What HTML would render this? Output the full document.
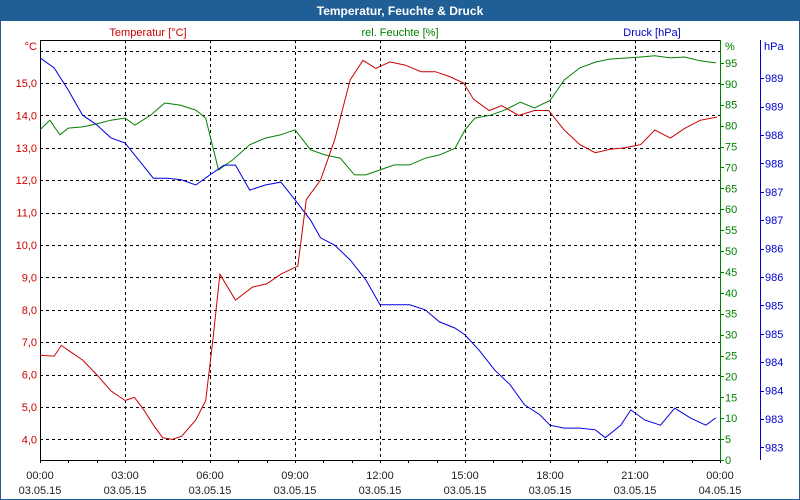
<!DOCTYPE html>
<html><head><meta charset="utf-8"><style>
html,body{margin:0;padding:0;background:#fff}
#wrap{position:relative;width:800px;height:500px;overflow:hidden}
text{font-family:"Liberation Sans",sans-serif;font-size:11px}
</style></head><body>
<div id="wrap">
<svg id="chart" width="800" height="500" xmlns="http://www.w3.org/2000/svg">
<rect x="0.5" y="0.5" width="799" height="499" fill="#fff" stroke="#1f5f96"/>
<rect x="0" y="0" width="800" height="21" fill="#1f5f96"/>
<text x="400" y="15" text-anchor="middle" fill="#fff" font-weight="bold" style="font-size:12px">Temperatur, Feuchte &amp; Druck</text>
<text x="148" y="36" text-anchor="middle" fill="#cc0000">Temperatur [°C]</text>
<text x="400" y="36" text-anchor="middle" fill="#008000">rel. Feuchte [%]</text>
<text x="652" y="36" text-anchor="middle" fill="#0000cc">Druck [hPa]</text>
<text x="37" y="50" text-anchor="end" fill="#cc0000">°C</text>
<text x="725" y="50" fill="#008000">%</text>
<text x="764" y="50" fill="#0000cc">hPa</text>
<g id="grid"></g><g id="axes"></g><g id="series"></g>
</svg>
</div>
<script>
const tempHours=[0,0.5,0.75,1,1.5,2,2.5,3,3.33,3.67,4,4.33,4.67,5,5.5,5.85,6.1,6.35,6.9,7.5,8,8.5,9.1,9.4,9.9,10.4,10.95,11.4,11.85,12.35,12.9,13.45,13.95,14.45,14.95,15.3,15.85,16.3,16.9,17.45,17.95,18.5,19.05,19.6,20.1,20.65,21.2,21.7,22.25,22.75,23.3,23.9];
const tempValues=[6.6,6.57,6.9,6.75,6.45,6.0,5.5,5.2,5.3,4.9,4.45,4.05,4.0,4.1,4.6,5.2,7.05,9.1,8.3,8.7,8.8,9.1,9.35,11.4,12.0,13.25,15.1,15.7,15.45,15.65,15.55,15.35,15.35,15.2,15.0,14.5,14.15,14.3,14.0,14.15,14.15,13.55,13.1,12.85,12.95,13.0,13.1,13.55,13.3,13.6,13.85,13.95];
const humHours=[0,0.35,0.7,1,1.5,2,2.5,3,3.35,3.9,4.4,4.95,5.5,5.85,6.3,6.8,7.4,7.95,8.5,9.0,9.55,10.05,10.6,11.1,11.5,12.0,12.5,13.05,13.6,14.1,14.65,15.0,15.35,15.9,16.4,16.95,17.45,18.0,18.5,19.05,19.6,20.1,21.2,21.7,22.25,22.75,23.3,23.85];
const humValues=[79,81.3,77.8,79.4,79.7,80.4,81.3,81.8,80.1,82.5,85.4,84.9,83.7,81.8,69.4,71.8,75.4,77,77.8,79,74.2,73,72.2,68.2,68.2,69.4,70.6,70.6,72.2,73,74.6,79,81.8,82.5,83.7,85.6,84.2,86,90.9,93.8,95.2,95.9,96.4,96.7,96.2,96.4,95.5,95];
const presHours=[0,0.5,1,1.5,2,2.5,3,3.55,4,4.5,5,5.5,6,6.5,6.9,7.4,7.95,8.5,9.0,9.55,9.9,10.4,10.95,11.5,12.0,12.5,13.05,13.6,14.1,14.65,15.0,15.5,16.05,16.6,17.1,17.65,18.0,18.5,19.05,19.6,19.95,20.5,20.85,21.35,21.9,22.4,22.95,23.5,23.85];
const presValues=[989.36,989.18,988.79,988.35,988.18,987.95,987.86,987.52,987.24,987.24,987.21,987.12,987.30,987.47,987.47,987.03,987.12,987.17,986.86,986.5,986.19,986.06,985.8,985.45,985.01,985.01,985.01,984.92,984.71,984.6,984.48,984.21,983.86,983.6,983.25,983.07,982.89,982.84,982.84,982.81,982.67,982.89,983.16,982.98,982.89,983.19,983.02,982.89,983.02];
const timeLabels=["00:00","03:00","06:00","09:00","12:00","15:00","18:00","21:00","00:00"];
const dateLabels=["03.05.15","03.05.15","03.05.15","03.05.15","03.05.15","03.05.15","03.05.15","03.05.15","04.05.15"];
const tempTicks=[4,5,6,7,8,9,10,11,12,13,14,15,16];
const humTicks=[0,5,10,15,20,25,30,35,40,45,50,55,60,65,70,75,80,85,90,95];
const presTicks=[982.5,983,983.5,984,984.5,985,985.5,986,986.5,987,987.5,988,988.5,989];

const NS="http://www.w3.org/2000/svg";
const X0=40,X1=720,Y0=40,Y1=460;
const xS=h=>X0+h*(X1-X0)/24;
const yT=t=>83-(t-15)*32.4;
const yH=v=>460-v*4.18;
const yP=p=>419-(p-983)*56.8;
function mk(tag,attrs,parent,txt){const e=document.createElementNS(NS,tag);for(const k in attrs)e.setAttribute(k,attrs[k]);if(txt!==undefined)e.textContent=txt;parent.appendChild(e);return e;}
const grid=document.getElementById('grid'),axes=document.getElementById('axes'),series=document.getElementById('series');
tempTicks.forEach(t=>{
  const y=Math.round(yT(t))+0.5;
  const l=mk('line',{x1:X0,x2:X1,y1:y,y2:y,stroke:'#000','stroke-dasharray':'3,3'},grid);
  
  
  if(t<=15){const tx=mk('text',{x:37,y:yT(t)+4,'text-anchor':'end',fill:'#cc0000'},axes,t.toFixed(1).replace('.',','));
  
  }
});
timeLabels.forEach((lab,i)=>{
  const x=Math.round(xS(i*3))+0.5;
  if(i>0&&i<8){const l=mk('line',{x1:x,x2:x,y1:Y0,y2:Y1,stroke:'#000','stroke-dasharray':'3,3'},grid);
  
  }
  const t1=mk('text',{x:xS(i*3),y:479,'text-anchor':'middle',fill:'#222'},axes,lab);
  
  
  const t2=mk('text',{x:xS(i*3),y:494,'text-anchor':'middle',fill:'#222'},axes,dateLabels[i]);
  
  
});
for(let h=0;h<=24;h++){const x=Math.round(xS(h))+0.5;
  const l=mk('line',{x1:x,x2:x,y1:Y1,y2:Y1+3,stroke:'#000'},axes);
  
  }
const fr=mk('path',{d:`M${X1},${Y0+0.5}H${X0+0.5}V${Y1+0.5}H${X1}`,fill:'none',stroke:'#000'},axes);


const ga=mk('line',{x1:720.5,x2:720.5,y1:Y0,y2:Y1+1,stroke:'#008000'},axes);


humTicks.forEach(v=>{const y=Math.round(yH(v))+0.5;
  const l=mk('line',{x1:720,x2:724,y1:y,y2:y,stroke:'#008000'},axes);
  
  
  const t=mk('text',{x:725,y:yH(v)+4,fill:'#008000'},axes,String(v));
  
  });
const ba=mk('line',{x1:760.5,x2:760.5,y1:Y0,y2:Y1,stroke:'#0000cc'},axes);


presTicks.forEach(p=>{const y=Math.round(yP(p))+0.5;
  const l=mk('line',{x1:760,x2:764,y1:y,y2:y,stroke:'#0000cc'},axes);
  
  
  const t=mk('text',{x:765,y:yP(p)+4,fill:'#0000cc'},axes,String(Math.round(p+0.001)));
  
  });
function line(hs,vs,yf,col,name){
  const pts=hs.map((h,i)=>xS(h).toFixed(1)+','+yf(vs[i]).toFixed(1)).join(' ');
  const p=mk('polyline',{points:pts,fill:'none',stroke:col,'stroke-width':1},series);
  
  
}
line(humHours,humValues,yH,'#008000','humidity-line');
line(presHours,presValues,yP,'#0000dd','pressure-line');
line(tempHours,tempValues,yT,'#cc0000','temperature-line');
</script>
</body></html>
